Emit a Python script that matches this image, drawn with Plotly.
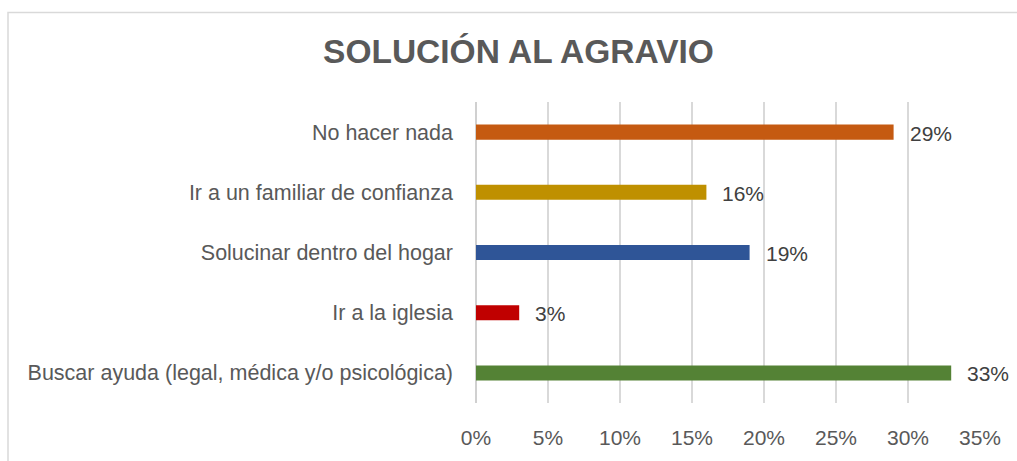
import plotly.graph_objects as go

# Survey responses: how the grievance was resolved
categories = [
    "No hacer nada",
    "Ir a un familiar de confianza",
    "Solucinar dentro del hogar",
    "Ir a la iglesia",
    "Buscar ayuda (legal, médica y/o psicológica)",
]
shares = [0.29, 0.16, 0.19, 0.03, 0.33]
bar_colors = ["#C55A11", "#BF9000", "#2F5597", "#C00000", "#548235"]
tick_values = [0, 0.05, 0.10, 0.15, 0.20, 0.25, 0.30, 0.35]
tick_labels = ["0%", "5%", "10%", "15%", "20%", "25%", "30%", "35%"]

W, H = 1017, 461
ML, MR, MT, MB = 476, 37, 102, 56
plot_w = W - ML - MR
plot_h = H - MT - MB

FONT = "Liberation Sans, Arial, sans-serif"

fig = go.Figure(
    go.Bar(
        x=shares,
        y=categories,
        orientation="h",
        marker=dict(color=bar_colors, line=dict(width=0)),
        width=0.25,
        hoverinfo="skip",
    )
)

# Percentage labels to the right of each bar
for cat, val in zip(categories, shares):
    fig.add_annotation(
        x=val, y=cat, xref="x", yref="y",
        text=f"{round(val * 100)}%",
        showarrow=False, xanchor="left", yanchor="middle",
        xshift=14, yshift=-1,
        font=dict(family=FONT, size=21, color="#404040"),
    )

# Light frame around the chart
def px_to_paper_x(px):
    return (px - ML) / plot_w

def px_to_paper_y(py):
    return 1 - (py - MT) / plot_h

fig.add_shape(
    type="rect", xref="paper", yref="paper",
    x0=px_to_paper_x(8), x1=px_to_paper_x(W + 20),
    y0=px_to_paper_y(H + 20), y1=px_to_paper_y(12),
    line=dict(color="#D9D9D9", width=1.5),
    fillcolor="rgba(0,0,0,0)", layer="below",
)

fig.update_layout(
    width=W, height=H,
    margin=dict(l=ML, r=MR, t=MT, b=MB, pad=0),
    paper_bgcolor="white", plot_bgcolor="white",
    showlegend=False,
    title=dict(
        text="<b>SOLUCIÓN AL AGRAVIO</b>",
        x=518.5 / W, xref="container", xanchor="center",
        y=1 - 51 / H, yref="container", yanchor="middle",
        font=dict(family=FONT, size=33.5, color="#595959"),
    ),
    xaxis=dict(
        range=[0, 0.35],
        tickvals=tick_values, ticktext=tick_labels,
        showgrid=True, gridcolor="#D9D9D9", gridwidth=1.5,
        zeroline=True, zerolinecolor="#D0D0D0", zerolinewidth=1.5,
        showline=False, ticks="",
        ticklabelstandoff=20,
        tickfont=dict(family=FONT, size=21, color="#595959"),
        fixedrange=True,
    ),
    yaxis=dict(
        autorange="reversed",
        showgrid=False, zeroline=False, showline=False, ticks="",
        ticklabelstandoff=22,
        tickfont=dict(family=FONT, size=21.5, color="#595959"),
        fixedrange=True,
    ),
)

fig.write_html("out.html")
